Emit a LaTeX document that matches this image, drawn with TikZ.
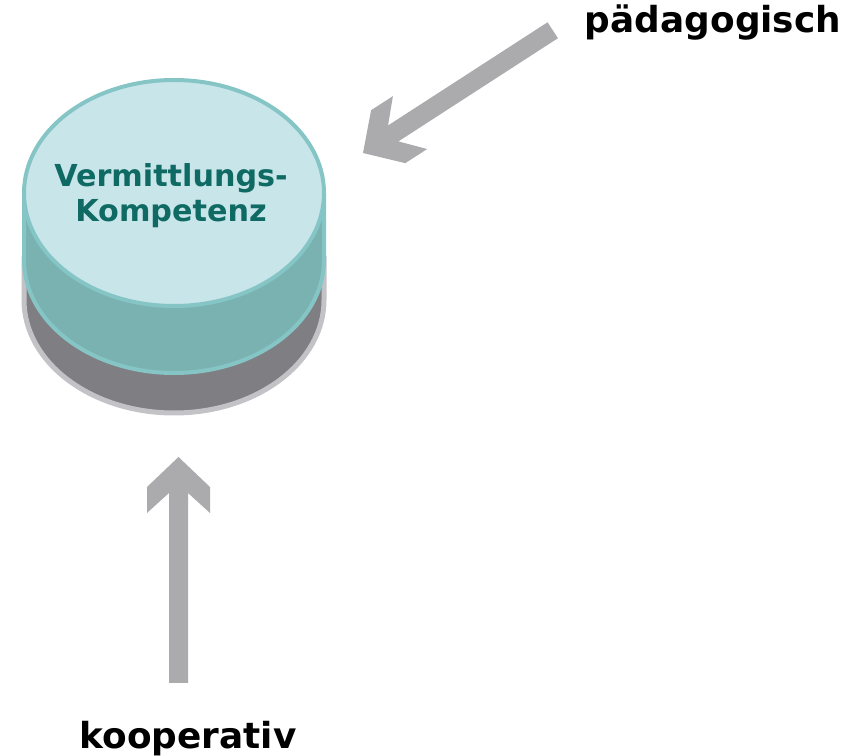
\documentclass[tikz,border=0pt]{standalone}
\usepackage{fontspec}
\setmainfont{DejaVu Sans}
\usepackage{tikz}
\definecolor{topface}{HTML}{C8E5EA}
\definecolor{rimteal}{HTML}{86C5C6}
\definecolor{sideteal}{HTML}{7AB2B1}
\definecolor{basegray}{HTML}{7F7F83}
\definecolor{rimgray}{HTML}{C3C3C7}
\definecolor{arrowgray}{HTML}{ABABAE}
\definecolor{labelteal}{HTML}{0E6A63}
\tikzset{
	grayarrow/.pic={
		\fill[arrowgray] (0,0) -- (-0.30,0.315) -- (-0.56,0.315) -- (-0.36,0.095) -- (-2.26,0.095)
		-- (-2.26,-0.095) -- (-0.36,-0.095) -- (-0.56,-0.315) -- (-0.30,-0.315) -- cycle;
	},
	labeltext/.style={font=\bfseries\fontsize{10.2}{12}\selectfont, inner sep=0pt}
}

\begin{document}
\begin{tikzpicture}
		%%%%% START %%%%%
		\useasboundingbox (0,0) rectangle (8.54,7.56);
		
		% base
		\fill[basegray] (0.24,5.0) -- (0.24,4.56) arc[start angle=180, end angle=360, x radius=1.5, y radius=1.13] -- (3.24,5.0) -- cycle;
		\draw[rimgray, line width=0.05cm] (0.24,5.0) -- (0.24,4.56) arc[start angle=180, end angle=360, x radius=1.5, y radius=1.13] -- (3.24,5.0);
		
		% band
		\fill[sideteal] (0.24,5.63) -- (0.24,4.96) arc[start angle=180, end angle=360, x radius=1.5, y radius=1.13] -- (3.24,5.63) -- cycle;
		\draw[rimteal, line width=0.04cm] (0.24,5.63) -- (0.24,4.96) arc[start angle=180, end angle=360, x radius=1.5, y radius=1.13] -- (3.24,5.63);
		
		% top
		\filldraw[fill=topface, draw=rimteal, line width=0.04cm] (1.74,5.63) ellipse[x radius=1.5, y radius=1.13];
		\node[align=center, text=labelteal, font=\bfseries\fontsize{8.6}{10}\selectfont] (vk) at (1.71,5.60) {Vermittlungs-\\Kompetenz};
		
		% arrows
		\coordinate (pedatip) at (3.63,6.03);
		\coordinate (cooptip) at (1.785,2.99);
		\pic[rotate=212.9] at (pedatip) {grayarrow};
		\pic[rotate=90] at (cooptip) {grayarrow};
		
		\node[labeltext, anchor=base] (peda) at (7.13,7.23) {pädagogisch};
		\node[labeltext, anchor=base] (coop) at (1.88,0.07) {kooperativ};
		%%%%% END %%%%%
	\end{tikzpicture}
\end{document}
